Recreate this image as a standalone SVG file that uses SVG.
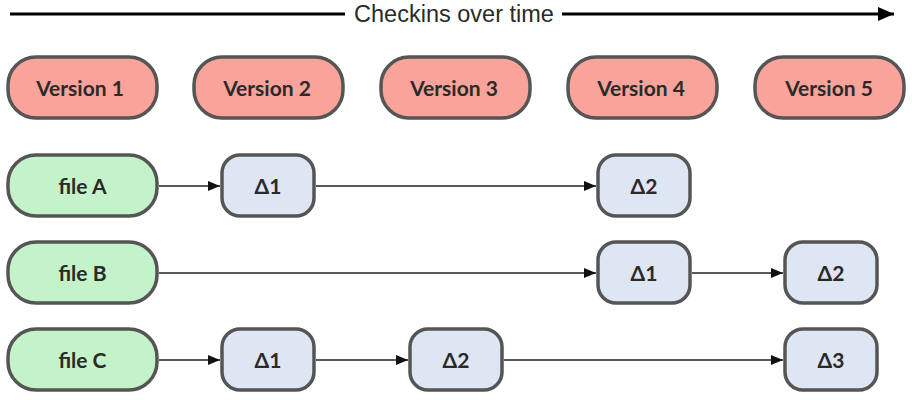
<svg xmlns="http://www.w3.org/2000/svg" width="912" height="400" viewBox="0 0 912 400">
<defs>
<marker id="ah" markerWidth="12" markerHeight="10" refX="12" refY="5" orient="auto" markerUnits="userSpaceOnUse">
<path d="M0,0 L12,5 L0,10 Z" fill="#111"/>
</marker>
<marker id="ahb" markerWidth="16" markerHeight="14" refX="16" refY="7" orient="auto" markerUnits="userSpaceOnUse">
<path d="M0,0 L16,7 L0,14 Z" fill="#000"/>
</marker>
</defs>
<style>
.ver{fill:#F9A39B;stroke:#555;stroke-width:3.5}
.file{fill:#C4F2C9;stroke:#555;stroke-width:3.5}
.delta{fill:#DEE6F4;stroke:#555;stroke-width:3.5}
text{font-family:Lato,"Liberation Sans",Arial,sans-serif;font-size:21px;font-weight:bold;fill:#2a2a2a;text-anchor:middle;dominant-baseline:central}
.title{font-family:"Liberation Sans",Arial,sans-serif;font-size:23.5px;font-weight:normal}
.conn line{stroke:#222;stroke-width:1.5}
</style>
<rect width="912" height="400" fill="#fff"/>
<g id="timeline">
<line x1="10" y1="14" x2="345" y2="14" stroke="#000" stroke-width="3"/>
<line x1="562" y1="14" x2="894" y2="14" stroke="#000" stroke-width="3" marker-end="url(#ahb)"/>
<text class="title" x="454" y="14">Checkins over time</text>
</g>
<g id="v1"><rect class="ver" x="8" y="57" width="149" height="61" rx="28"/><text x="80" y="87.5">Version 1</text></g>
<g id="v2"><rect class="ver" x="194" y="57" width="149" height="61" rx="28"/><text x="267" y="87.5">Version 2</text></g>
<g id="v3"><rect class="ver" x="381" y="57" width="149" height="61" rx="28"/><text x="454" y="87.5">Version 3</text></g>
<g id="v4"><rect class="ver" x="568" y="57" width="149" height="61" rx="28"/><text x="641" y="87.5">Version 4</text></g>
<g id="v5"><rect class="ver" x="755" y="57" width="149" height="61" rx="28"/><text x="829" y="87.5">Version 5</text></g>

<g id="fileA"><rect class="file" x="8" y="155" width="149" height="61" rx="28"/><text x="82.5" y="185.5">file A</text></g>
<g id="fileB"><rect class="file" x="8" y="242" width="149" height="61" rx="28"/><text x="82.5" y="272.5">file B</text></g>
<g id="fileC"><rect class="file" x="8" y="329" width="149" height="61" rx="28"/><text x="82.5" y="359.5">file C</text></g>

<g id="a1"><rect class="delta" x="222" y="155" width="92" height="61" rx="18"/><text x="268" y="185.5">Δ1</text></g>
<g id="a2"><rect class="delta" x="598" y="155" width="92" height="61" rx="18"/><text x="644" y="185.5">Δ2</text></g>
<g id="b1"><rect class="delta" x="598" y="242" width="92" height="61" rx="18"/><text x="644" y="272.5">Δ1</text></g>
<g id="b2"><rect class="delta" x="785" y="242" width="92" height="61" rx="18"/><text x="831" y="272.5">Δ2</text></g>
<g id="c1"><rect class="delta" x="222" y="329" width="92" height="61" rx="18"/><text x="268" y="359.5">Δ1</text></g>
<g id="c2"><rect class="delta" x="410" y="329" width="92" height="61" rx="18"/><text x="456" y="359.5">Δ2</text></g>
<g id="c3"><rect class="delta" x="785" y="329" width="92" height="61" rx="18"/><text x="831" y="359.5">Δ3</text></g>

<g class="conn" id="connectors">
<line x1="159" y1="186" x2="220" y2="186" marker-end="url(#ah)"/>
<line x1="316" y1="186" x2="596" y2="186" marker-end="url(#ah)"/>
<line x1="159" y1="273" x2="596" y2="273" marker-end="url(#ah)"/>
<line x1="692" y1="273" x2="783" y2="273" marker-end="url(#ah)"/>
<line x1="159" y1="360" x2="220" y2="360" marker-end="url(#ah)"/>
<line x1="316" y1="360" x2="408" y2="360" marker-end="url(#ah)"/>
<line x1="504" y1="360" x2="783" y2="360" marker-end="url(#ah)"/>
</g>
</svg>
